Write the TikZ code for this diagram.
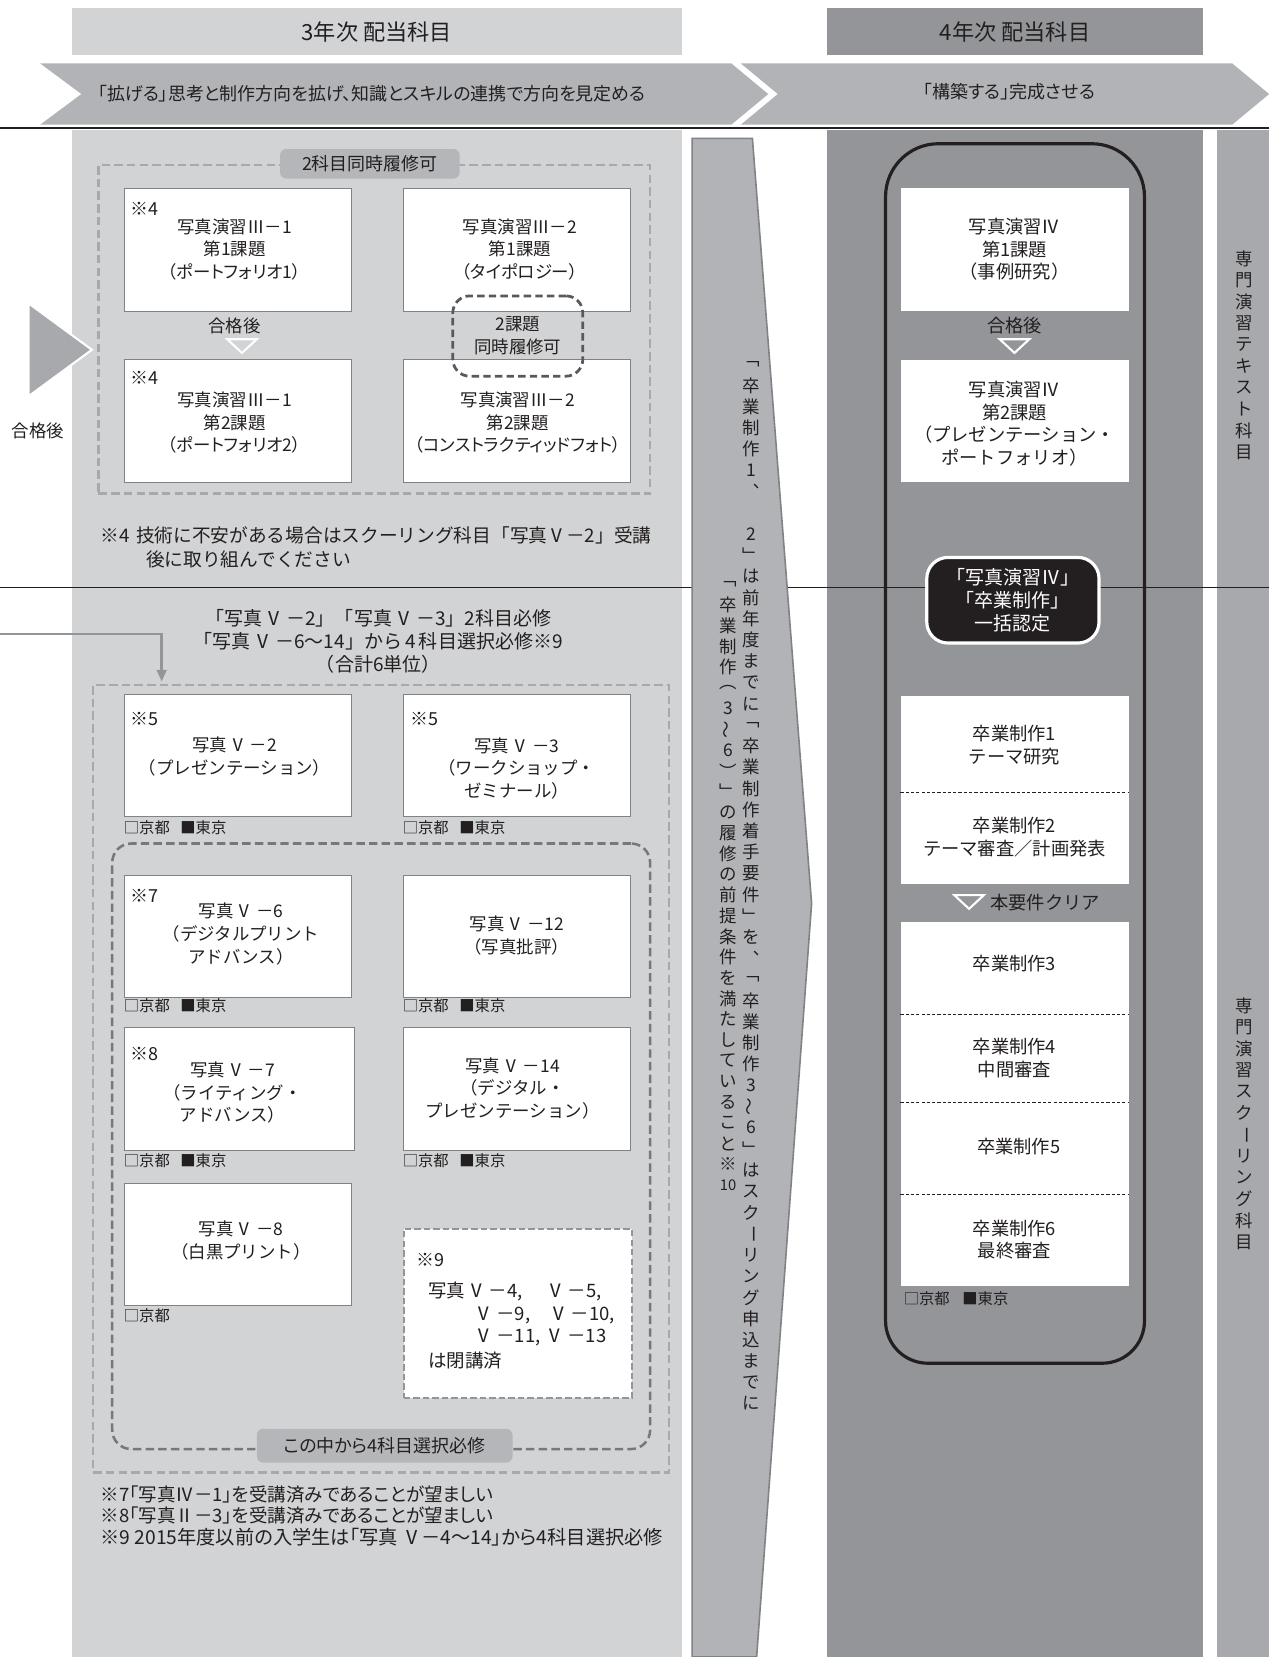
\documentclass[tikz,border=0pt]{standalone}
\usepackage{fontspec}
\setmainfont{Noto Sans CJK JP}
\newfontfamily\jpp[RawFeature=+palt]{Noto Sans CJK JP}
\usepackage{graphicx}
\usetikzlibrary{arrows.meta}
\definecolor{lightbg}{HTML}{D1D3D4}
\definecolor{darkbg}{HTML}{939598}
\definecolor{sidebg}{HTML}{A7A9AC}
\definecolor{chev}{HTML}{B1B3B6}
\definecolor{lbl}{HTML}{B5B6B9}
\definecolor{dashlight}{HTML}{A7A9AC}
\definecolor{dashdark}{HTML}{77787B}
\definecolor{dashdeep}{HTML}{58595B}
\definecolor{ink}{HTML}{231F20}
\definecolor{edge}{HTML}{808285}
\newcommand\vtilde{\rotatebox[origin=c]{90}{～}}
\newcommand\vbar{\rotatebox[origin=c]{-90}{ー}}
\newcommand\vten{\fontsize{14}{14}\selectfont 10}
\newcommand\VV{\hspace{2pt}Ⅴ\hspace{3pt}}
\begin{document}
\begin{tikzpicture}[x=1pt,y=-1pt,
  every node/.style={inner sep=0pt, text=ink},
  t16/.style={font=\fontsize{16.5}{21.5}\selectfont, align=center},
  tr17/.style={font=\fontsize{17.3}{21.5}\selectfont, align=center},
  tp16/.style={font=\jpp\fontsize{16.5}{21.5}\selectfont, align=center},
  hdr/.style={font=\jpp\fontsize{21}{24}\selectfont},
  wbox/.style={draw=edge, fill=white, line width=0.7pt, anchor=north west},
  plainbox/.style={fill=white, anchor=north west},
  legend/.style={font=\fontsize{14.5}{16}\selectfont, anchor=west},
  smark/.style={font=\fontsize{17}{20}\selectfont, anchor=west},
  c6txt/.style={font=\fontsize{17.5}{20}\selectfont, anchor=west},
  vch/.style={font=\fontsize{16.5}{16}\selectfont},
  outerdash/.style={draw=dashlight, line width=2.4pt, dash pattern=on 8pt off 4pt, anchor=north west},
  innerdash/.style={draw=dashdark, line width=2.4pt, dash pattern=on 8pt off 4pt, rounded corners=18pt, anchor=north west},
  lblbox/.style={fill=lbl, rounded corners=6pt, font=\jpp\fontsize{17}{20}\selectfont},
  wtri/.style={draw=white, line width=2pt},
  note/.style={font=\fontsize{17.7}{21}\selectfont, anchor=west},
  note2/.style={font=\jpp\fontsize{17.5}{21}\selectfont, anchor=west},
  arr/.style={draw=darkbg, line width=2.4pt, -{Triangle[length=11pt,width=9pt]}},
  sep/.style={draw=ink, line width=0.6pt, dash pattern=on 3pt off 2pt},
]
\useasboundingbox (0,0) rectangle (1201,1568);
\fill[white] (0,0) rectangle (1201,1568);

% headers
\node[fill=lightbg, minimum width=577pt, minimum height=44pt, hdr] (h3) at (356.5,30) {3年次 配当科目};
\node[fill=darkbg, minimum width=355pt, minimum height=44pt, hdr] (h4) at (960.5,30) {4年次 配当科目};

% columns
\fill[lightbg] (68,123) rectangle (645,1568);
\fill[darkbg] (783,123) rectangle (1138,1568);
\fill[sidebg] (1152,123) rectangle (1201,1568);

% chevrons
\fill[chev] (38,60) -- (692,60) -- (727,89) -- (692,118) -- (38,118) -- (77,89) -- cycle;
\fill[chev] (701,60) -- (1166,60) -- (1201,89) -- (1166,118) -- (701,118) -- (736,89) -- cycle;
\node[font=\jpp\fontsize{17}{20}\selectfont] (c1) at (352,89) {「拡げる」思考と制作方向を拡げ、知識とスキルの連携で方向を見定める};
\node[font=\jpp\fontsize{17}{20}\selectfont] (c2) at (955,87) {「構築する」完成させる};

% horizontal lines
\draw[ink, line width=2.2pt] (0,121) -- (1201,121);
\draw[ink, line width=1.3pt] (0,556) -- (1201,556);

% vertical arrow
\filldraw[fill=chev, draw=edge, line width=1.5pt] (655,131) -- (712,131) -- (768,855) -- (716,1568) -- (655,1568) -- cycle;
\foreach \c [count=\i] in {﹁,卒,業,制,作,1,︑,{},2,﹂,は,前,年,度,ま,で,に,﹁,卒,業,制,作,着,手,要,件,﹂,を,︑,﹁,卒,業,制,作,3,\vtilde,6,﹂,は,ス,ク,\vbar,リ,ン,グ,申,込,ま,で,に}
  \node[vch] (vr\i) at (711,{345+(\i-1)*20.06}) {\c};
\foreach \c [count=\i] in {﹁,卒,業,制,作,︵,3,\vtilde,6,︶,﹂,の,履,修,の,前,提,条,件,を,満,た,し,て,い,る,こ,と,※,\vten}
  \node[vch] (vl\i) at (689,{553+(\i-1)*19.6}) {\c};

% left triangle
\filldraw[fill=sidebg, draw=white, line width=2pt] (27,287) -- (87,331) -- (27,375) -- cycle;
\node[t16] (gk0) at (36,408) {合格後};

% ===== section 1 =====
\node[outerdash, minimum width=522pt, minimum height=311pt] (G1) at (92,155) {};
\node[lblbox, minimum width=170pt, minimum height=28pt] (G1l) at (350,155) {2科目同時履修可};
\node[wbox, minimum width=215pt, minimum height=116pt] (A1) at (117,178) {};
\node[wbox, minimum width=215pt, minimum height=116pt] (A2) at (381,178) {};
\node[wbox, minimum width=215pt, minimum height=116pt] (A3) at (117,340) {};
\node[wbox, minimum width=215pt, minimum height=116pt] (A4) at (381,340) {};
\node[smark] (A1m) at (123,198) {※4};
\node[tp16] (A1t) at (222,236) {写真演習Ⅲ－1\\第1課題\\（ポートフォリオ1）};
\node[tp16] (A2t) at (492,236) {写真演習Ⅲ－2\\第1課題\\（タイポロジー）};
\node[tp16] (gk1) at (222,308) {合格後};
\draw[wtri] (215,321) -- (243,321) -- (229,334) -- cycle;
\node[smark] (A3m) at (123,358) {※4};
\node[tp16] (A3t) at (222,400) {写真演習Ⅲ－1\\第2課題\\（ポートフォリオ2）};
\node[tp16] (A4t) at (490,400) {写真演習Ⅲ－2\\第2課題\\（コンストラクティッドフォト）};
\node[draw=dashdeep, line width=2.6pt, dash pattern=on 7pt off 4pt, rounded corners=16pt, minimum width=123pt, minimum height=76pt, tp16] (Ad) at (490,318) {2課題\\同時履修可};
\node[note] (n4a) at (95,507) {※4\hspace{6pt}技術に不安がある場合はスクーリング科目「写真Ⅴ－2」受講};
\node[note] (n4b) at (138,529) {後に取り組んでください};

% ===== section 2 =====
\node[font=\fontsize{18}{21.5}\selectfont, align=center] (s2t) at (358,607) {「写真\VV－2」「写真\VV－3」2科目必修\\「写真\VV－6～14」から\,4\,科目選択必修※9\\（合計6単位）};
\coordinate (inL) at (0,600);
\coordinate (G2in) at (153,645);
\draw[arr] (inL) -| (G2in);
\node[outerdash, minimum width=545pt, minimum height=745pt] (G2) at (87,647) {};
\node[wbox, minimum width=215pt, minimum height=115pt] (B1) at (117,657) {};
\node[wbox, minimum width=215pt, minimum height=115pt] (B2) at (381,657) {};
\node[smark] (B1m) at (123,680) {※5};
\node[t16] (B1t) at (222,716) {写真\VV－2\\（プレゼンテーション）};
\node[smark] (B2m) at (388,680) {※5};
\node[t16] (B2t) at (489,727) {写真\VV－3\\（ワークショップ・\\ゼミナール）};
\node[legend] (B1g) at (117,783) {□京都\hspace{10pt}■東京};
\node[legend] (B2g) at (381,783) {□京都\hspace{10pt}■東京};

\node[innerdash, minimum width=509pt, minimum height=573pt] (G3) at (105,797) {};
\node[lblbox, minimum width=242pt, minimum height=32pt] (G3l) at (364,1368) {この中から4科目選択必修};

\node[wbox, minimum width=215pt, minimum height=115pt] (C1) at (117,828) {};
\node[wbox, minimum width=215pt, minimum height=115pt] (C2) at (381,828) {};
\node[smark] (C1m) at (123,848) {※7};
\node[t16] (C1t) at (228,884) {写真\VV－6\\（デジタルプリント\\アドバンス）};
\node[t16] (C2t) at (489,885) {写真\VV－12\\（写真批評）};
\node[legend] (C1g) at (117,952) {□京都\hspace{10pt}■東京};
\node[legend] (C2g) at (381,952) {□京都\hspace{10pt}■東京};

\node[wbox, minimum width=218pt, minimum height=116pt] (C3) at (117,972) {};
\node[wbox, minimum width=215pt, minimum height=116pt] (C4) at (381,972) {};
\node[smark] (C3m) at (123,997) {※8};
\node[t16] (C3t) at (220,1034) {写真\VV－7\\（ライティング・\\アドバンス）};
\node[t16] (C4t) at (485,1030) {写真\VV－14\\（デジタル・\\プレゼンテーション）};
\node[legend] (C3g) at (117,1098) {□京都\hspace{10pt}■東京};
\node[legend] (C4g) at (381,1098) {□京都\hspace{10pt}■東京};

\node[wbox, minimum width=215pt, minimum height=116pt] (C5) at (117,1119) {};
\node[t16] (C5t) at (228,1174) {写真\VV－8\\（白黒プリント）};
\node[legend] (C5g) at (117,1245) {□京都};

\node[fill=white, draw=darkbg, line width=2pt, dash pattern=on 6pt off 3pt, minimum width=216pt, minimum height=160pt, anchor=north west] (C6) at (381,1162) {};
\node[smark] (C6m) at (394,1192) {※9};
\node[c6txt] (C6a) at (405,1222) {写真\VV－4,\hspace{20pt}\VV－5,};
\node[c6txt] (C6b) at (447,1245) {\VV－9,\hspace{16pt}\VV－10,};
\node[c6txt] (C6c) at (447,1266) {\VV－11,\hspace{3pt}\VV－13};
\node[c6txt] (C6d) at (405,1287) {は閉講済};

\node[note2] (n7) at (95,1414) {※7「写真Ⅳ－1」を受講済みであることが望ましい};
\node[note2] (n8) at (95,1434) {※8「写真Ⅱ－3」を受講済みであることが望ましい};
\node[note2, font=\jpp\fontsize{18.2}{21}\selectfont] (n9) at (95,1455) {※9 2015年度以前の入学生は「写真 Ⅴ－4～14」から4科目選択必修};

% ===== right column =====
\draw[ink, line width=3pt] (838,700) [rounded corners=50pt] -- (838,136) -- (1083,136) -- (1083,700) [rounded corners=40pt] -- (1083,1290) -- (838,1290) -- cycle;
\node[plainbox, minimum width=216pt, minimum height=116pt] (D1) at (852,178) {};
\node[plainbox, minimum width=216pt, minimum height=116pt] (D2) at (852,340) {};
\node[tr17] (D1t) at (960,236) {写真演習Ⅳ\\第1課題\\（事例研究）};
\node[tr17] (gk2) at (960,308) {合格後};
\draw[wtri] (946,321) -- (974,321) -- (960,334) -- cycle;
\node[tr17] (D2t) at (960,401) {写真演習Ⅳ\\第2課題\\（プレゼンテーション・\\ポートフォリオ）};

\node[fill=ink, draw=white, line width=3pt, rounded corners=20pt, minimum width=163pt, minimum height=81pt, font=\fontsize{18}{21.5}\selectfont, align=center, text=white] (bk) at (958.5,568) {「写真演習Ⅳ」\\「卒業制作」\\一括認定};

\node[plainbox, minimum width=216pt, minimum height=178pt] (E1) at (852,658) {};
\node[plainbox, minimum width=216pt, minimum height=345pt] (E2) at (852,872) {};
\draw[sep] (852,750) -- (1068,750);
\draw[sep] (852,960) -- (1068,960);
\draw[sep] (852,1043) -- (1068,1043);
\draw[sep] (852,1130) -- (1068,1130);
\node[tr17] (E1a) at (960,705) {卒業制作1\\テーマ研究};
\node[tr17] (E1b) at (960,792) {卒業制作2\\テーマ審査／計画発表};
\draw[wtri] (903,847) -- (931,847) -- (917,860) -- cycle;
\node[tr17, anchor=west] (req) at (937,854) {本要件クリア};
\node[tr17] (E2a) at (960,912) {卒業制作3};
\node[tr17] (E2b) at (960,1001) {卒業制作4\\中間審査};
\node[tr17] (E2c) at (964,1085) {卒業制作5};
\node[tr17] (E2d) at (960,1173) {卒業制作6\\最終審査};
\node[legend] (Eg) at (855,1229) {□京都\hspace{12pt}■東京};

% far right vertical labels
\foreach \c [count=\i] in {専,門,演,習,テ,キ,ス,ト,科,目}
  \node[vch] (ft\i) at (1177,{245+(\i-1)*20.3}) {\c};
\foreach \c [count=\i] in {専,門,演,習,ス,ク,\vbar,リ,ン,グ,科,目}
  \node[vch] (fs\i) at (1177,{952+(\i-1)*20.3}) {\c};
\end{tikzpicture}
\end{document}
